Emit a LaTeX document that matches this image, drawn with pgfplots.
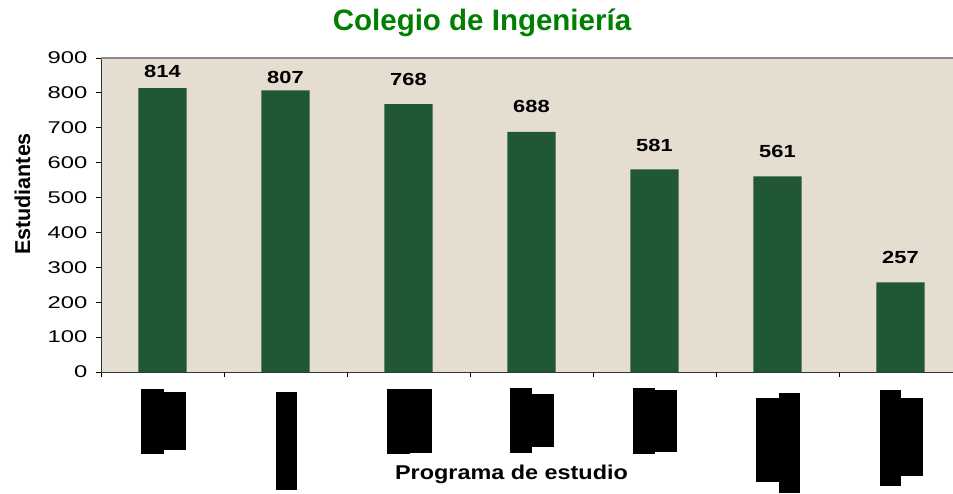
\documentclass[border=0pt]{standalone}
\usepackage{fontspec}
\setmainfont{Liberation Sans}
\usepackage{graphicx}
\usepackage{pgfplots}
\pgfplotsset{compat=1.18}
\definecolor{titleg}{RGB}{0,128,0}
\definecolor{bgc}{RGB}{228,221,208}
\definecolor{barg}{RGB}{33,88,52}
\newcommand{\rd}[3]{\raisebox{-\dimexpr #2pt+#3pt\relax}{\rule{#1pt}{#3pt}}}
\begin{document}
\begin{tikzpicture}[x=1pt,y=1pt]
\useasboundingbox (0,0) rectangle (953,493);
\begin{axis}[
  at={(101pt,121pt)}, anchor=south west,
  scale only axis, width=852pt, height=314pt,
  xmin=-0.5, xmax=6.427, ymin=0, ymax=900,
  axis x line*=bottom, axis y line*=left,
  axis line style={draw=black!80, line width=0.8pt},
  axis background/.style={fill=bgc},
  xtick={0,...,6},
  minor xtick={-0.5,0.5,...,6.5},
  ytick={0,100,...,900},
  tick align=outside,
  major tick length=5pt, minor tick length=5pt,
  tick style={black, line width=0.8pt},
  major x tick style={draw=none},
  xticklabels={
    {\rd{22.3}{16.3}{65}\rd{22}{20}{58}},
    {\rd{21.7}{20}{97.3}},
    {\rd{22.3}{16.3}{65}\rd{22}{16.3}{64.4}},
    {\rd{22}{16}{65}\rd{22}{22}{53}},
    {\rd{22}{16}{65.3}\rd{22}{18}{61.7}},
    {\rd{22.3}{26}{83.7}\rd{21.7}{20.7}{100}},
    {\rd{21.7}{18}{96}\rd{22}{26}{78}}},
  xticklabel style={anchor=north, inner sep=0pt, yshift=5pt, xshift=1pt},
  yticklabel={\scalebox{1.4}[1]{\pgfmathprintnumber{\tick}}},
  yticklabel style={anchor=east, inner sep=0pt, xshift=-8.5pt, font=\fontsize{17}{17}\selectfont},
  /pgf/number format/assume math mode=true,
  clip=false,
  extra description/.code={\draw[black!45, line width=1.5pt] (0,1)--(1,1);},
]
\addplot[ybar, bar width=0.393, fill=barg, draw=none]
  coordinates {(0,814) (1,807) (2,768) (3,688) (4,581) (5,561) (6,257)};
\addplot[draw=none,
  nodes near coords={\scalebox{1.25}[1]{\pgfplotspointmeta}},
  point meta=explicit symbolic,
  every node near coord/.style={anchor=base, inner sep=0pt, font=\fontsize{17.5}{17.5}\selectfont\bfseries, black}]
  coordinates {(0,845.5)[814] (1,827.5)[807] (2,820.6)[768] (3,743.2)[688] (4,633.4)[581] (5,616.2)[561] (6,312.4)[257]};
\end{axis}
\node[anchor=base, font=\fontsize{29.5}{29.5}\selectfont\bfseries, text=titleg] at (482,462) {Colegio de Ingeniería};
\node[anchor=base, font=\fontsize{20}{20}\selectfont\bfseries] at (511.5,13.7) {\scalebox{1.17}[1]{Programa de estudio}};
\node[anchor=base, rotate=90, font=\fontsize{21.5}{21.5}\selectfont\bfseries] at (30,299) {Estudiantes};
\end{tikzpicture}
\end{document}
